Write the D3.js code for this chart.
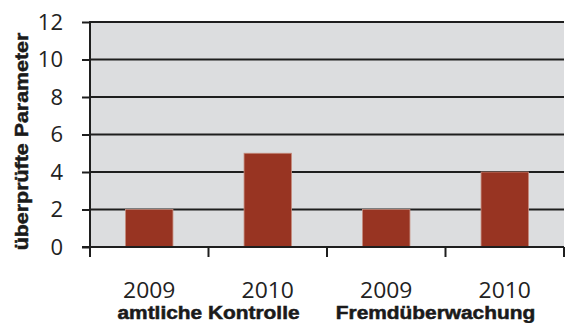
<!DOCTYPE html>
<html>
<head>
<meta charset="utf-8">
<script src="https://cdn.jsdelivr.net/npm/d3@7"></script>
<style>
  html, body { margin: 0; padding: 0; background: #fff; }
  svg { display: block; }
</style>
</head>
<body>
<svg id="chart" width="566" height="323"></svg>
<script>
// Checked parameters per year, grouped by type of inspection
const groups = ["amtliche Kontrolle", "Fremdüberwachung"];
const years = ["2009", "2010", "2009", "2010"];
const groupOfBar = [0, 0, 1, 1];
const values = [2, 5, 2, 4];
const yTicks = [0, 2, 4, 6, 8, 10, 12];
const yTitle = "überprüfte Parameter";

const svg = d3.select("#chart");
const plotLeft = 90, plotRight = 564, plotTop = 22, plotBottom = 247;
const ink = "#1e1e1e";

const x = d3.scaleBand()
  .domain(d3.range(values.length))
  .range([plotLeft, plotRight])
  .paddingInner(0.6)
  .paddingOuter(0.3);

const y = d3.scaleLinear().domain([0, 12]).range([plotBottom, plotTop]);

// plot background
svg.append("rect")
  .attr("x", plotLeft).attr("y", plotTop)
  .attr("width", plotRight - plotLeft).attr("height", plotBottom - plotTop)
  .attr("fill", "#dcdddf");

// horizontal gridlines
svg.append("g").selectAll("line")
  .data(yTicks.filter(d => d > 0))
  .join("line")
  .attr("x1", plotLeft).attr("x2", plotRight)
  .attr("y1", d => y(d)).attr("y2", d => y(d))
  .attr("stroke", ink).attr("stroke-width", 2);

// bars
svg.append("g").selectAll("rect")
  .data(values)
  .join("rect")
  .attr("x", (d, i) => x(i))
  .attr("y", d => y(d))
  .attr("width", x.bandwidth())
  .attr("height", d => plotBottom - y(d))
  .attr("fill", "#983422")
  .attr("stroke", "#c58a7c")
  .attr("stroke-width", 0.8);

// y axis
const yAxis = d3.axisLeft(y).tickValues(yTicks).tickSize(8).tickPadding(19);
const gy = svg.append("g").attr("transform", `translate(${plotLeft},0)`).call(yAxis);
gy.select(".domain").remove();
gy.selectAll(".tick line").attr("stroke", ink).attr("stroke-width", 2);
gy.selectAll(".tick text")
  .attr("font-family", "'Open Sans', sans-serif")
  .attr("font-size", 22)
  .attr("fill", "#222")
  .attr("dy", "0.33em");
svg.append("line")
  .attr("x1", plotLeft).attr("x2", plotLeft)
  .attr("y1", plotTop - 1).attr("y2", plotBottom + 10)
  .attr("stroke", ink).attr("stroke-width", 2);

// x axis line with group-boundary ticks
svg.append("line")
  .attr("x1", plotLeft - 8).attr("x2", plotRight)
  .attr("y1", plotBottom).attr("y2", plotBottom)
  .attr("stroke", ink).attr("stroke-width", 2);
const boundaries = d3.range(values.length + 1).map(i =>
  i < values.length ? x(i) - x.step() * x.paddingInner() / 2 : plotRight);
svg.append("g").selectAll("line")
  .data(boundaries)
  .join("line")
  .attr("x1", d => d).attr("x2", d => d)
  .attr("y1", plotBottom).attr("y2", plotBottom + 10)
  .attr("stroke", ink).attr("stroke-width", 2);

// year labels
svg.append("g").selectAll("text")
  .data(years)
  .join("text")
  .attr("transform", (d, i) => `translate(${x(i) + x.bandwidth() / 2},298) scale(1.04,1)`)
  .attr("text-anchor", "middle")
  .attr("font-family", "'Open Sans', sans-serif")
  .attr("font-size", 22)
  .attr("fill", "#222")
  .text(d => d);

// group labels
svg.append("g").selectAll("text")
  .data(groups)
  .join("text")
  .attr("transform", (g, gi) => {
    const idx = values.map((v, i) => i).filter(i => groupOfBar[i] === gi);
    const cx = (x(idx[0]) + x(idx[idx.length - 1]) + x.bandwidth()) / 2;
    return `translate(${cx - (gi === 1 ? 10 : 0)},319) scale(1.16,1)`;
  })
  .attr("text-anchor", "middle")
  .attr("font-family", "'Liberation Sans', Arial, sans-serif")
  .attr("font-weight", "bold")
  .attr("font-size", 18)
  .attr("fill", "#1a1a1a")
  .attr("stroke", "#1a1a1a")
  .attr("stroke-width", 0.5)
  .text(g => g);

// y axis title
svg.append("text")
  .attr("transform", `translate(28,${(33 + 250) / 2}) rotate(-90) scale(1.19,1)`)
  .attr("text-anchor", "middle")
  .attr("font-family", "'Liberation Sans', Arial, sans-serif")
  .attr("font-weight", "bold")
  .attr("font-size", 18)
  .attr("fill", "#1a1a1a")
  .attr("stroke", "#1a1a1a")
  .attr("stroke-width", 0.5)
  .text(yTitle);
</script>
</body>
</html>
